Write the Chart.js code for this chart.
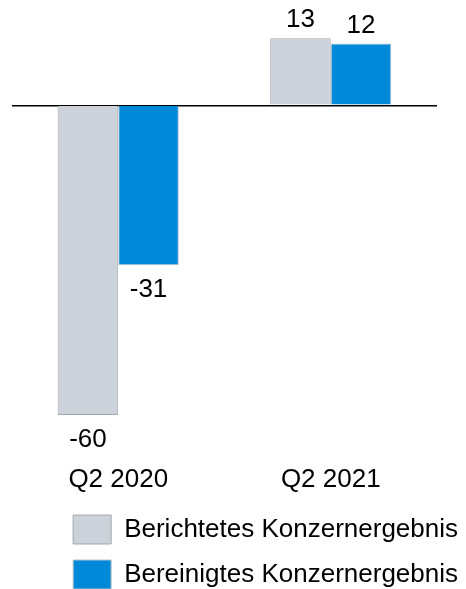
<!DOCTYPE html>
<html>
<head>
<meta charset="utf-8">
<script src="https://cdn.jsdelivr.net/npm/chart.js@4/dist/chart.umd.min.js"></script>
<style>
  html, body { margin: 0; padding: 0; background: #ffffff; }
  #wrap { position: relative; width: 466px; height: 589px; }
</style>
</head>
<body>
<div id="wrap"><canvas id="c"></canvas></div>
<script>
const categories = ["Q2 2020", "Q2 2021"];
const seriesNames = ["Berichtetes Konzernergebnis", "Bereinigtes Konzernergebnis"];
const reported = [-60, 13];
const adjusted = [-31, 12];

const FONT = "'Liberation Sans', Arial, sans-serif";

const valueLabels = {
  id: "valueLabels",
  afterDatasetsDraw(chart) {
    const ctx = chart.ctx;
    ctx.save();
    ctx.font = "26px " + FONT;
    ctx.fillStyle = "#000000";
    ctx.textAlign = "center";
    ctx.textBaseline = "middle";
    chart.data.datasets.forEach((ds, di) => {
      const meta = chart.getDatasetMeta(di);
      meta.data.forEach((bar, i) => {
        const v = ds.data[i];
        const y = v >= 0 ? bar.y - 18 : bar.y + 25;
        ctx.fillText(String(v), bar.x, y);
      });
    });
    ctx.restore();
  }
};

new Chart(document.getElementById("c"), {
  type: "bar",
  data: {
    labels: categories,
    datasets: [
      {
        label: seriesNames[0],
        data: reported,
        backgroundColor: "#CBD2DA",
        borderColor: "#A3A7AB",
        borderWidth: 1,
        categoryPercentage: 0.57,
        barPercentage: 1.0
      },
      {
        label: seriesNames[1],
        data: adjusted,
        backgroundColor: "#0089D9",
        borderColor: "#B9C3CB",
        borderWidth: 1,
        categoryPercentage: 0.57,
        barPercentage: 1.0
      }
    ]
  },
  options: {
    responsive: true,
    maintainAspectRatio: false,
    animation: false,
    layout: { padding: { left: 12, right: -8, top: 4, bottom: -10 } },
    plugins: {
      legend: {
        position: "bottom",
        align: "end",
        labels: {
          font: { size: 26, family: FONT },
          color: "#000000",
          boxWidth: 38,
          boxHeight: 29,
          padding: 16
        }
      },
      tooltip: { enabled: false }
    },
    scales: {
      x: {
        grid: { display: false, drawTicks: false },
        border: { display: false },
        ticks: { font: { size: 26, family: FONT }, color: "#000000", padding: 4 }
      },
      y: {
        position: "right",
        min: -68.7,
        max: 19.65,
        ticks: { display: false, stepSize: 4 },
        border: { display: false },
        grid: {
          drawTicks: false,
          lineWidth: 1.5,
          color: (c) => (c.tick && c.tick.value === 0 ? "#000000" : "rgba(0,0,0,0)")
        },
        afterFit(scale) { scale.width = 37; }
      }
    }
  },
  plugins: [valueLabels]
});
</script>
</body>
</html>
